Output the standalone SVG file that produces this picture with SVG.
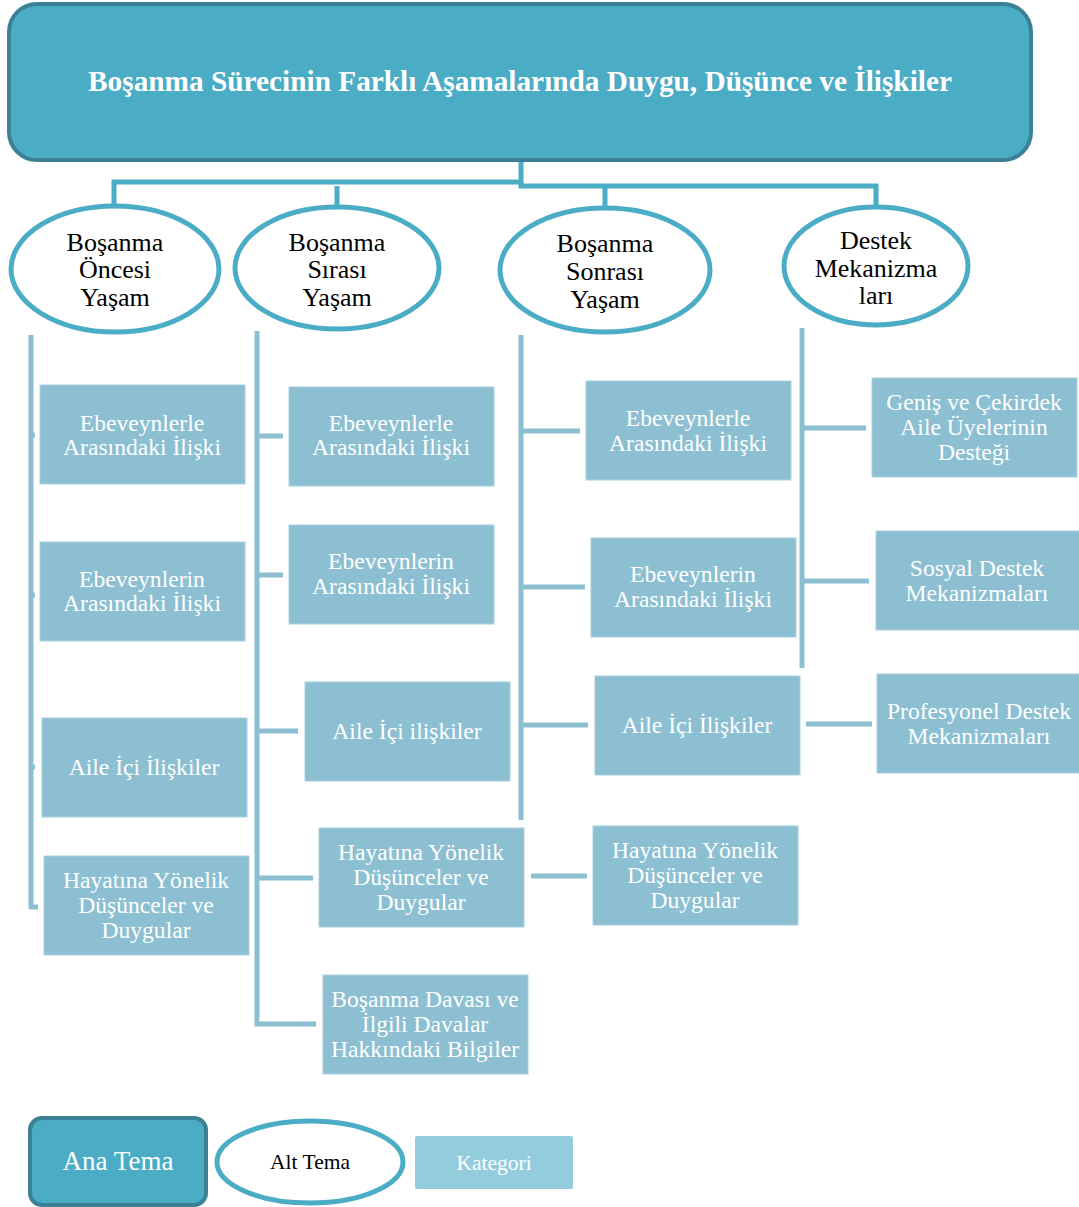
<svg xmlns="http://www.w3.org/2000/svg" width="1079" height="1207" viewBox="0 0 1079 1207">
<style>
.t{font-family:"Liberation Serif","Times New Roman",serif;text-anchor:middle;dominant-baseline:central}
.box{fill:#8cbfd2;stroke:#a9d2e0;stroke-width:1}
.bt{fill:#ffffff;font-size:23.6px}
.el{fill:#ffffff;stroke:#4bacc6;stroke-width:5}
.et{fill:#000000;font-size:26px}
.top{fill:none;stroke:#4bacc6;stroke-width:5}
.cn{fill:none;stroke:#8cbfd2;stroke-width:5}
</style>
<rect width="1079" height="1207" fill="#ffffff"/>

<g id="connectors">
  <path class="top" d="M521,160 V182 H114 V206"/>
  <path class="top" d="M521,182 V186 H876 V208 M337,186 V208 M605,186 V209"/>
  <path class="cn" d="M31,335 V907 H38 M31,435 H35 M31,595 H35 M31,767 H35"/>
  <path class="cn" d="M257,331 V1024 H316 M257,436 H283 M257,575 H283 M257,731 H298 M257,878 H313"/>
  <path class="cn" d="M521,335 V820 M521,431 H580 M521,587 H585 M521,725 H588"/>
  <path class="cn" d="M531,876 H587"/>
  <path class="cn" d="M802,328 V668 M802,428 H866 M802,581 H869"/>
  <path class="cn" d="M806,724 H872"/>
</g>

<g id="header">
  <rect x="9" y="4" width="1022" height="156" rx="28" fill="#4bacc6" stroke="#3b8195" stroke-width="4"/>
  <text class="t" x="520" y="81" fill="#ffffff" font-size="29.3" font-weight="bold">Boşanma Sürecinin Farklı Aşamalarında Duygu, Düşünce ve İlişkiler</text>
</g>

<g id="alt-oncesi">
  <ellipse class="el" cx="115" cy="269" rx="104" ry="63"/>
  <text class="t et" x="115" y="242">Boşanma</text>
  <text class="t et" x="115" y="269">Öncesi</text>
  <text class="t et" x="115" y="297">Yaşam</text>
</g>
<g id="alt-sirasi">
  <ellipse class="el" cx="337" cy="268" rx="102" ry="61"/>
  <text class="t et" x="337" y="242">Boşanma</text>
  <text class="t et" x="337" y="269">Sırası</text>
  <text class="t et" x="337" y="297">Yaşam</text>
</g>
<g id="alt-sonrasi">
  <ellipse class="el" cx="605" cy="270" rx="105" ry="62"/>
  <text class="t et" x="605" y="243">Boşanma</text>
  <text class="t et" x="605" y="271">Sonrası</text>
  <text class="t et" x="605" y="299">Yaşam</text>
</g>
<g id="alt-destek">
  <ellipse class="el" cx="876" cy="266" rx="92" ry="59"/>
  <text class="t et" x="876" y="240">Destek</text>
  <text class="t et" x="876" y="268">Mekanizma</text>
  <text class="t et" x="876" y="295">ları</text>
</g>

<g id="c1-1"><rect class="box" x="40" y="385" width="205" height="99"/>
  <text class="t bt" x="142" y="423">Ebeveynlerle</text><text class="t bt" x="142" y="447">Arasındaki İlişki</text></g>
<g id="c1-2"><rect class="box" x="40" y="542" width="205" height="99"/>
  <text class="t bt" x="142" y="579">Ebeveynlerin</text><text class="t bt" x="142" y="603">Arasındaki İlişki</text></g>
<g id="c1-3"><rect class="box" x="42" y="718" width="205" height="99"/>
  <text class="t bt" x="144" y="767">Aile İçi İlişkiler</text></g>
<g id="c1-4"><rect class="box" x="44" y="856" width="205" height="99"/>
  <text class="t bt" x="146" y="880">Hayatına Yönelik</text><text class="t bt" x="146" y="905">Düşünceler ve</text><text class="t bt" x="146" y="930">Duygular</text></g>

<g id="c2-1"><rect class="box" x="289" y="387" width="205" height="99"/>
  <text class="t bt" x="391" y="423">Ebeveynlerle</text><text class="t bt" x="391" y="447">Arasındaki İlişki</text></g>
<g id="c2-2"><rect class="box" x="289" y="525" width="205" height="99"/>
  <text class="t bt" x="391" y="561">Ebeveynlerin</text><text class="t bt" x="391" y="586">Arasındaki İlişki</text></g>
<g id="c2-3"><rect class="box" x="305" y="682" width="205" height="99"/>
  <text class="t bt" x="407" y="731">Aile İçi ilişkiler</text></g>
<g id="c2-4"><rect class="box" x="319" y="828" width="205" height="99"/>
  <text class="t bt" x="421" y="852">Hayatına Yönelik</text><text class="t bt" x="421" y="877">Düşünceler ve</text><text class="t bt" x="421" y="902">Duygular</text></g>
<g id="c2-5"><rect class="box" x="323" y="975" width="205" height="99"/>
  <text class="t bt" x="425" y="999">Boşanma Davası ve</text><text class="t bt" x="425" y="1024">İlgili Davalar</text><text class="t bt" x="425" y="1049">Hakkındaki Bilgiler</text></g>

<g id="c3-1"><rect class="box" x="586" y="381" width="205" height="99"/>
  <text class="t bt" x="688" y="418">Ebeveynlerle</text><text class="t bt" x="688" y="443">Arasındaki İlişki</text></g>
<g id="c3-2"><rect class="box" x="591" y="538" width="205" height="99"/>
  <text class="t bt" x="693" y="574">Ebeveynlerin</text><text class="t bt" x="693" y="599">Arasındaki İlişki</text></g>
<g id="c3-3"><rect class="box" x="595" y="676" width="205" height="99"/>
  <text class="t bt" x="697" y="725">Aile İçi İlişkiler</text></g>
<g id="c3-4"><rect class="box" x="593" y="826" width="205" height="99"/>
  <text class="t bt" x="695" y="850">Hayatına Yönelik</text><text class="t bt" x="695" y="875">Düşünceler ve</text><text class="t bt" x="695" y="900">Duygular</text></g>

<g id="c4-1"><rect class="box" x="872" y="378" width="205" height="99"/>
  <text class="t bt" x="974" y="402">Geniş ve Çekirdek</text><text class="t bt" x="974" y="427">Aile Üyelerinin</text><text class="t bt" x="974" y="452">Desteği</text></g>
<g id="c4-2"><rect class="box" x="876" y="531" width="205" height="99"/>
  <text class="t bt" x="977" y="568">Sosyal Destek</text><text class="t bt" x="977" y="593">Mekanizmaları</text></g>
<g id="c4-3"><rect class="box" x="877" y="674" width="205" height="99"/>
  <text class="t bt" x="979" y="711">Profesyonel Destek</text><text class="t bt" x="979" y="736">Mekanizmaları</text></g>

<g id="legend-ana">
  <rect x="30" y="1118" width="176" height="87" rx="12" fill="#4bacc6" stroke="#3b8195" stroke-width="4"/>
  <text class="t" x="118" y="1161" fill="#ffffff" font-size="27">Ana Tema</text>
</g>
<g id="legend-alt">
  <ellipse class="el" cx="310" cy="1162" rx="93" ry="41"/>
  <text class="t" x="310" y="1162" fill="#000000" font-size="21.5">Alt Tema</text>
</g>
<g id="legend-kategori">
  <rect x="415" y="1136" width="158" height="53" rx="2" fill="#93cddd"/>
  <text class="t" x="494" y="1163" fill="#ffffff" font-size="21.5">Kategori</text>
</g>
</svg>
